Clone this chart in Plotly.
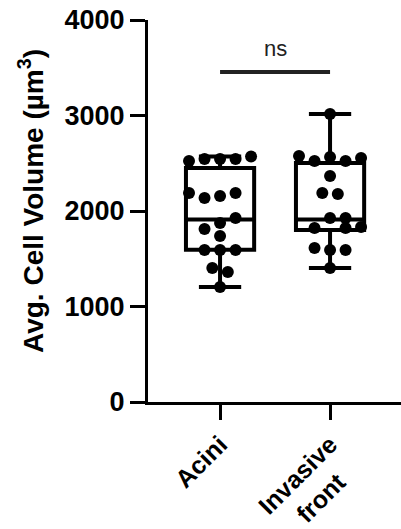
import plotly.graph_objects as go

categories = ["Acini", "Invasive<br>front\u00a0\u00a0\u00a0"]

# individual measurements (µm³) and their lane index in the scatter column
acini_vals = [2524, 2545, 2545, 2545, 2570, 2188, 2136, 2157, 2188,
              1927, 1874, 1812, 1738, 1592, 1592, 1592, 1403, 1361, 1204]
acini_lane = [-2, -1, 0, 1, 2, -2, -1, 0, 1,
              1, 0, -1, 0, -1, 0, 1, -0.5, 0.5, 0]
inv_vals = [3016, 2576, 2524, 2565, 2524, 2555, 2366, 2188, 2178,
            1927, 1927, 1822, 1822, 1832, 1613, 1592, 1592, 1403]
inv_lane = [0, -2, -1, 0, 1, 2, 0, -0.5, 0.5,
            0, 1, -1, 1, 2, -1, 0, 1, 0]

# box summary
box_low = [1204, 1403]
box_q1 = [1595, 1800]
box_med = [1910, 1910]
box_q3 = [2450, 2503]
box_high = [2570, 3016]

y_ticks = [0, 1000, 2000, 3000, 4000]

LANE = 0.141
FONT = "Arial, Liberation Sans, sans-serif"

fig = go.Figure()
fig.add_trace(go.Box(
    x=[0, 1], q1=box_q1, median=box_med, q3=box_q3,
    lowerfence=box_low, upperfence=box_high,
    width=0.62, whiskerwidth=0.62,
    line=dict(color="black", width=4), fillcolor="rgba(0,0,0,0)",
    boxpoints=False, showlegend=False, hoverinfo="skip"))

for i, (vals, lanes) in enumerate([(acini_vals, acini_lane), (inv_vals, inv_lane)]):
    fig.add_trace(go.Scatter(
        x=[i + l * LANE for l in lanes], y=vals, mode="markers",
        marker=dict(color="black", size=12, line=dict(width=0)),
        showlegend=False, cliponaxis=False))

fig.add_shape(type="line", x0=0, x1=1, y0=3455, y1=3455, xref="x", yref="y",
              line=dict(color="#222", width=4))
fig.add_annotation(x=0.5, y=3700, xref="x", yref="y", text="ns", showarrow=False,
                   font=dict(family=FONT, size=22, color="#222"),
                   xanchor="center", yanchor="middle")
fig.add_annotation(x=(31 - 148) / 253, y=(402 - 201) / 382, xref="paper", yref="paper",
                   text="Avg. Cell Volume (µm<sup>3</sup>)", textangle=-90, showarrow=False,
                   font=dict(family=FONT, size=28, color="black", weight=700),
                   xanchor="center", yanchor="middle")

fig.update_layout(
    width=401, height=529, margin=dict(l=148, r=0, t=20, b=127, autoexpand=False),
    paper_bgcolor="white", plot_bgcolor="white",
    xaxis=dict(range=[-0.655, 1.645], tickvals=[0, 1], ticktext=categories,
               tickangle=-45, showline=True, linecolor="black", linewidth=3,
               ticks="outside", ticklen=15, tickwidth=3, tickcolor="black",
               showgrid=False, zeroline=False, automargin=False,
               tickfont=dict(family=FONT, size=25, color="black", weight=700)),
    yaxis=dict(range=[0, 4000], tickvals=y_ticks, showline=True, linecolor="black",
               linewidth=3, ticks="outside", ticklen=15, tickwidth=3, tickcolor="black",
               showgrid=False, zeroline=False, automargin=False,
               tickfont=dict(family=FONT, size=27, color="black", weight=700)),
)

fig.write_html("out.html")
